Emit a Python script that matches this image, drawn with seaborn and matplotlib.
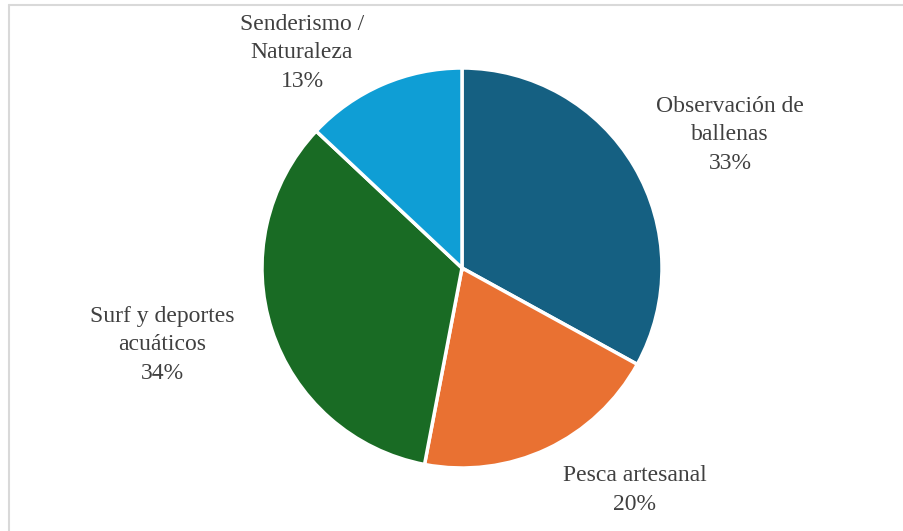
import matplotlib
matplotlib.use("Agg")
import matplotlib.pyplot as plt
import seaborn as sns
from matplotlib.lines import Line2D

categories = ["Observación de\nballenas", "Pesca artesanal", "Surf y deportes\nacuáticos", "Senderismo /\nNaturaleza"]
values = [33, 20, 34, 13]
colors = ["#156082", "#E97132", "#196B24", "#0F9ED5"]

# label centers in axes data units (pie radius = 1)
label_pos = [(1.34, 0.665), (0.865, -1.11), (-1.50, -0.385), (-0.80, 1.075)]

sns.set_theme(style="white")
plt.rcParams['font.family'] = ['Liberation Serif', 'DejaVu Serif']

W, H = 904, 531
fig = plt.figure(figsize=(W / 100, H / 100), dpi=100)
cx, cy, r = 462, 268, 200
ax = fig.add_axes([(cx - r) / W, (H - cy - r) / H, 2 * r / W, 2 * r / H])

wedges, _ = ax.pie(values, colors=colors, startangle=90, counterclock=False,
                   radius=1, wedgeprops=dict(edgecolor="white", linewidth=2.5))
ax.set_xlim(-1, 1)
ax.set_ylim(-1, 1)
ax.set_aspect("auto")
ax.axis("off")

for cat, v, (x, y) in zip(categories, values, label_pos):
    ax.text(x, y, f"{cat}\n{v}%", ha="center", va="center", fontsize=17,
            color="#404040", linespacing=1.45, clip_on=False)

# chart area border (top and left visible in the crop)
fig.add_artist(Line2D([9 / W, 1], [1 - 4.5 / H, 1 - 4.5 / H], color="#D9D9D9", lw=1.5))
fig.add_artist(Line2D([9 / W, 9 / W], [0, 1 - 4.5 / H], color="#D9D9D9", lw=1.5))

fig.savefig("out.png", dpi=100, facecolor="white")
